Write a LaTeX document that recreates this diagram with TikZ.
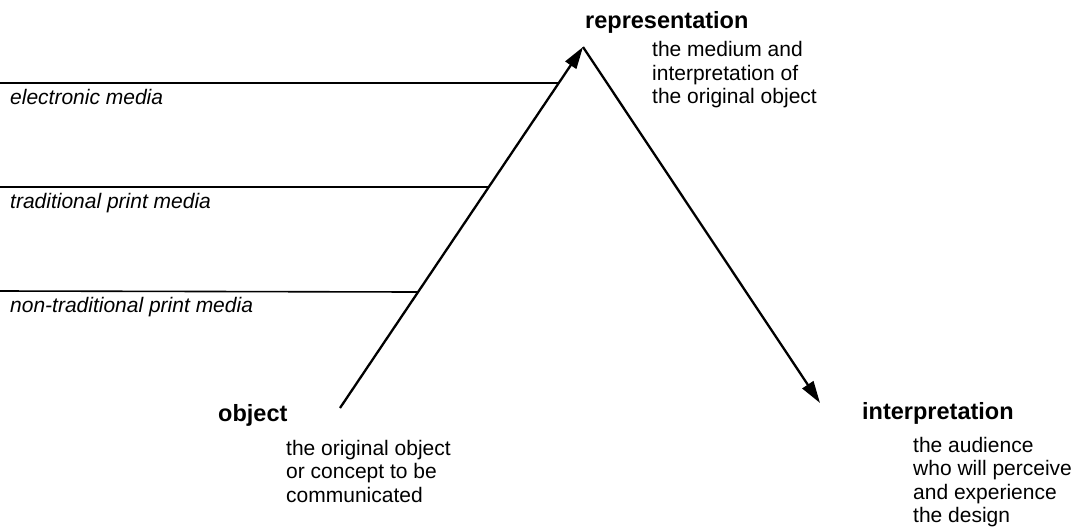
\documentclass[tikz,border=0pt]{standalone}
\usepackage{fontspec}
\setmainfont{Liberation Sans}
\usetikzlibrary{arrows.meta,calc}
\begin{document}
\begin{tikzpicture}[x=1pt,y=-1pt,
  head/.style={inner sep=0pt,anchor=west,font=\fontsize{23.5}{28}\selectfont\bfseries},
  desc/.style={inner sep=0pt,anchor=west,align=left,font=\fontsize{21}{23.5}\selectfont},
  medlabel/.style={inner sep=0pt,anchor=west,font=\fontsize{21}{24}\selectfont\itshape},
  flow/.style={line width=2.3pt,-{Triangle[length=22pt,width=13pt]}},
  rule/.style={line width=1.6pt}]
\useasboundingbox (0,0) rectangle (1078,530);
% key points
\coordinate (apex) at (583,47);
\coordinate (objtail) at (340,408);
\coordinate (tip) at (820,403);
% media rules
\coordinate (e1) at (0,83);
\coordinate (t1) at (0,187);
\coordinate (n1) at (0,291);
\coordinate (e2) at ($(objtail)!0.9003!(apex)$);
\coordinate (t2) at ($(objtail)!0.6122!(apex)$);
\coordinate (n2) at ($(objtail)!0.3213!(apex)$);
\draw[rule] (e1) -- (e2);
\draw[rule] (t1) -- (t2);
\draw[rule] (n1) -- (n2);
\node[medlabel] (el) at (10,97) {electronic media};
\node[medlabel] (tl) at (10,203) {traditional print media};
\node[medlabel] (nl) at (10,307) {non-traditional print media};
% arrows
\draw[flow] (objtail) -- (apex);
\draw[flow] (apex) -- (tip);
% headings
\node[head] (rep) at (585,22) {representation};
\node[desc] (repd) at (652,75) {the medium and\\interpretation of\\the original object};
\node[head] (obj) at (218,415) {object};
\node[desc] (objd) at (286,471) {the original object\\or concept to be\\communicated};
\node[head] (int) at (862,413) {interpretation};
\node[desc] (intd) at (913,482) {the audience\\who will perceive\\and experience\\the design};
\end{tikzpicture}
\end{document}
